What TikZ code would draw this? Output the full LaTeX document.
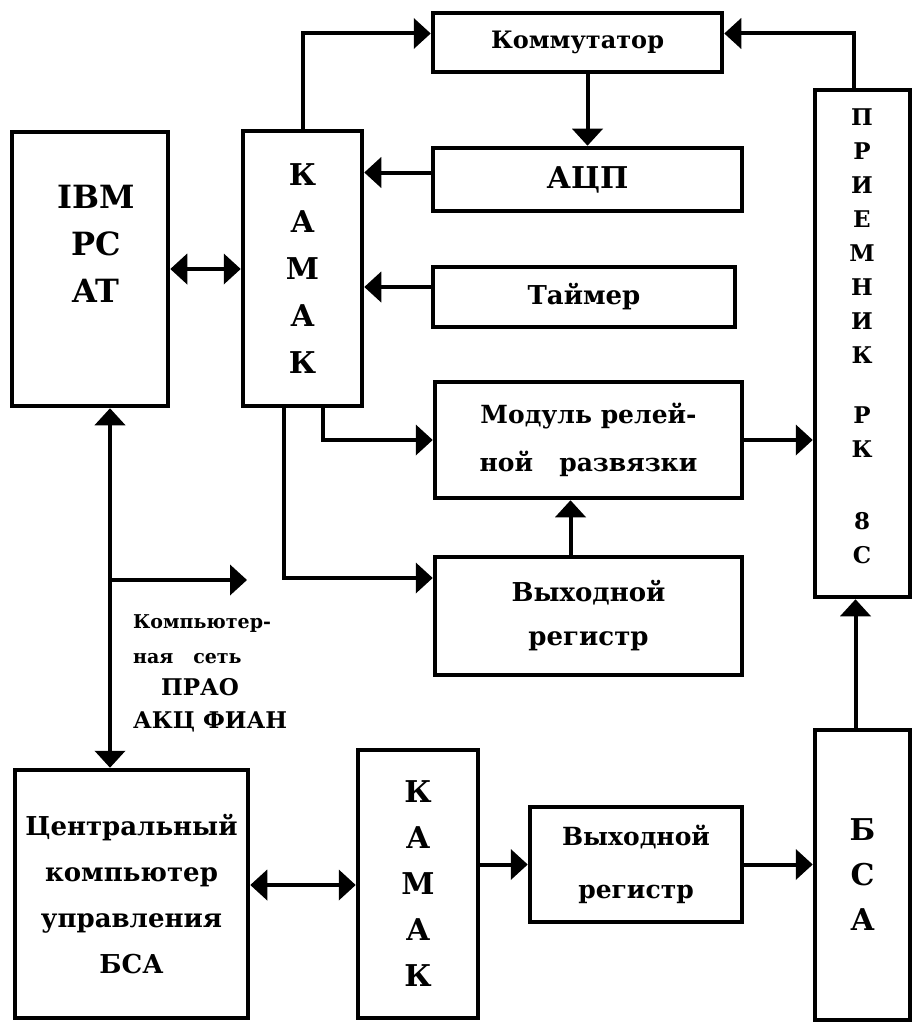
\documentclass[tikz,border=0pt]{standalone}
\usepackage{fontspec}
\setmainfont{DejaVu Serif}
\usetikzlibrary{arrows.meta, calc}

\newcommand{\fs}[2]{\fontsize{#1}{#2}\selectfont\bfseries}

\begin{document}
\begin{tikzpicture}[
    x=1pt, y=-1pt,
    box/.style={draw, line width=4.5pt, inner sep=0pt, align=center},
    conn/.style={line width=4pt, -{Triangle[length=17pt,width=30pt]}},
    biconn/.style={line width=4pt, {Triangle[length=17pt,width=30pt]}-{Triangle[length=17pt,width=30pt]}},
    lbl/.style={align=center, inner sep=0pt}
]
    \useasboundingbox (0,0) rectangle (913,1022);

    \node[box, minimum width=156pt, minimum height=274pt] (ibm) at (90,269) {};
    \node[lbl, font=\fs{32}{47}] (ibmtext) at (96,244) {IBM\\PC\\AT};

    \node[box, minimum width=119pt, minimum height=275pt, font=\fs{30}{47}] (kamak1) at (302.5,268.5) {К\\А\\М\\А\\К};

    \node[box, minimum width=289pt, minimum height=59pt, font=\fs{24}{28}] (komm) at (577.5,42.5) {Коммутатор};
    \node[box, minimum width=309pt, minimum height=63pt, font=\fs{30}{40}] (acp) at (587.5,179.5) {АЦП};
    \node[box, minimum width=302pt, minimum height=60pt, font=\fs{26}{34}] (timer) at (584,297) {Таймер};
    \node[box, minimum width=307pt, minimum height=116pt, font=\fs{25}{48}] (modul) at (588.5,440) {Модуль релей-\\ной\ \ \ развязки};
    \node[box, minimum width=307pt, minimum height=118pt, font=\fs{26}{44}] (vyh1) at (588.5,616) {Выходной\\регистр};

    \node[box, minimum width=95pt, minimum height=507pt] (priem) at (862.5,343.5) {};
    \node[lbl, font=\fs{23}{34}] (priemtext) at (862,336) {П\\Р\\И\\Е\\М\\Н\\И\\К\\[26pt]Р\\К\\[38pt]8\\С};

    \node[box, minimum width=233pt, minimum height=248pt, font=\fs{26}{46}] (central) at (131.5,894) {Центральный\\компьютер\\управления\\БСА};
    \node[box, minimum width=120pt, minimum height=268pt, font=\fs{30}{46}] (kamak2) at (418,884) {К\\А\\М\\А\\К};
    \node[box, minimum width=212pt, minimum height=115pt, font=\fs{25}{53}] (vyh2) at (636,864.5) {Выходной\\регистр};
    \node[box, minimum width=95pt, minimum height=290pt, font=\fs{30}{45}] (bsa) at (862.5,875) {Б\\С\\А};

    \node[lbl, font=\fs{19}{35}, align=left, anchor=north west] (nettext) at (133,614) {Компьютер-\\ная\ \ \ сеть};
    \node[lbl, font=\fs{23}{33}, align=left, anchor=north west] (praotext) at (133,678) {\hspace{28pt}ПРАО\\АКЦ ФИАН};

    \coordinate (netout) at (247,580);

    \draw[biconn] (ibm.east) -- (ibm.east -| kamak1.west);
    \draw[conn] (kamak1.north) |- ([yshift=9pt]komm.west);
    \draw[conn] ([xshift=-9pt]priem.north) |- ([yshift=9pt]komm.east);
    \draw[conn] (acp.north |- komm.south) -- (acp.north);
    \draw[conn] ([yshift=7pt]acp.west) -- ([yshift=7pt]acp.west -| kamak1.east);
    \draw[conn] ([yshift=10pt]timer.west) -- ([yshift=10pt]timer.west -| kamak1.east);
    \draw[conn] ([xshift=20pt]kamak1.south) |- (modul.west);
    \draw[conn] ([xshift=-19pt]kamak1.south) |- ([yshift=38pt]vyh1.west);
    \draw[conn] ([xshift=-18pt]vyh1.north) -- ([xshift=-18pt]modul.south);
    \draw[conn] (modul.east) -- (modul.east -| priem.west);
    \draw[conn] ([xshift=-7pt]bsa.north) -- ([xshift=-7pt]priem.south);

    \draw[biconn] ([xshift=20pt]ibm.south) -- ([xshift=20pt]ibm.south |- central.north);
    \draw[conn] ([xshift=20pt]ibm.south |- netout) -- (netout);

    \draw[biconn] ([yshift=9pt]central.east) -- ([yshift=9pt]central.east -| kamak2.west);
    \draw[conn] (vyh2.west -| kamak2.east) -- (vyh2.west);
    \draw[conn] (vyh2.east) -- (vyh2.east -| bsa.west);
\end{tikzpicture}
\end{document}
